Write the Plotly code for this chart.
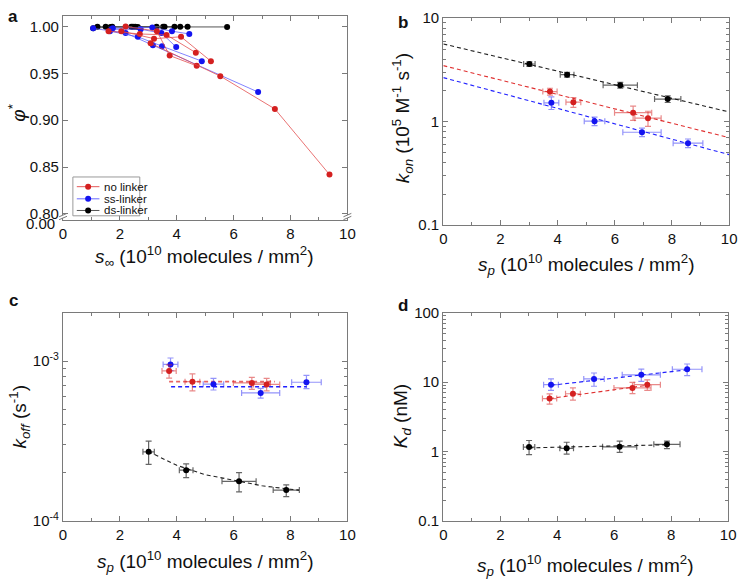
import plotly.graph_objects as go

W, H = 747, 585
def px(x): return x / W
def py(y): return 1 - y / H

# ---------------- Panel a data (s_inf, phi*) ----------------
nolink_s = [[1.6, 2.7, 3.64, 4.67], [2.05, 3.2, 4.15, 5.2], [2.2, 3.3, 3.75, 4.7], [3.08, 5.53, 7.45, 9.37]]
nolink_phi = [[0.995, 0.992, 0.991, 0.972], [0.995, 0.987, 0.989, 0.963], [1.0, 0.995, 0.969, 0.958], [0.982, 0.947, 0.912, 0.842]]
ss_s = [[1.06, 2.2, 3.16, 6.86], [1.65, 2.63, 3.48, 4.88], [1.7, 2.73, 3.46, 3.98], [1.75, 3.14, 3.83, 4.44]]
ss_phi = [[0.998, 0.993, 0.980, 0.930], [0.995, 0.989, 0.979, 0.963], [0.997, 0.997, 0.993, 0.978], [0.998, 0.999, 0.995, 0.992]]
ds_s = [[1.06, 1.67, 2.63, 5.77], [1.21, 2.4, 3.29, 4.38], [1.5, 2.46, 3.52, 4.12], [1.73, 2.54, 3.57, 3.92]]
ds_phi = [[0.998, 0.9995, 0.9995, 0.9995], [0.9998, 0.9998, 0.9998, 0.9998], [0.9997, 0.9998, 0.9998, 0.9998], [0.9996, 0.9997, 0.9998, 0.9998]]

# ---------------- Panels b-d data ----------------
sp_ds = [3.01, 4.33, 6.19, 7.85]
sp_ds_err = [0.2, 0.24, 0.6, 0.46]
sp_no = [3.73, 4.55, 6.64, 7.16]
sp_no_err = [0.25, 0.26, 0.65, 0.46]
sp_ss = [3.78, 5.29, 6.95, 8.56]
sp_ss_err = [0.26, 0.36, 0.67, 0.52]

kon_ds = [3.6, 2.84, 2.25, 1.65]
kon_ds_err = [0.18, 0.15, 0.14, 0.12]
kon_no = [1.95, 1.54, 1.22, 1.08]
kon_no_err = [0.15, 0.17, 0.19, 0.18]
kon_ss = [1.52, 1.01, 0.79, 0.62]
kon_ss_err = [0.21, 0.095, 0.075, 0.06]
kon_fit_x = [0, 10]
kon_fit_ds = [5.62, 1.24]
kon_fit_no = [3.47, 0.70]
kon_fit_ss = [2.66, 0.48]

koff_ds = [2.71e-4, 2.08e-4, 1.77e-4, 1.56e-4]
koff_ds_plus = [0.45e-4, 0.20e-4, 0.24e-4, 0.12e-4]
koff_ds_minus = [0.45e-4, 0.21e-4, 0.25e-4, 0.14e-4]
koff_no = [8.69e-4, 7.44e-4, 7.31e-4, 7.15e-4]
koff_no_plus = [0.8e-4, 0.9e-4, 0.62e-4, 0.65e-4]
koff_no_minus = [0.85e-4, 0.92e-4, 0.64e-4, 0.63e-4]
koff_ss = [9.55e-4, 7.18e-4, 6.33e-4, 7.38e-4]
koff_ss_plus = [0.92e-4, 0.62e-4, 0.43e-4, 0.76e-4]
koff_ss_minus = [0.82e-4, 0.58e-4, 0.45e-4, 0.65e-4]
koff_fit_ds_x = [3.0, 4.0, 5.0, 6.0, 7.0, 8.0, 8.3]
koff_fit_ds = [2.72e-4, 2.23e-4, 1.95e-4, 1.79e-4, 1.66e-4, 1.58e-4, 1.56e-4]
koff_fit_no_x = [3.73, 7.45]
koff_fit_no = [7.44e-4, 7.44e-4]
koff_fit_ss_x = [3.8, 8.57]
koff_fit_ss = [6.92e-4, 6.92e-4]

kd_ds = [1.16, 1.11, 1.17, 1.27]
kd_ds_plus = [0.28, 0.25, 0.24, 0.14]
kd_ds_minus = [0.26, 0.19, 0.2, 0.17]
kd_no = [5.78, 6.79, 8.24, 9.18]
kd_no_plus = [1.0, 1.45, 1.66, 1.6]
kd_no_minus = [0.96, 1.31, 1.44, 1.6]
kd_ss = [9.18, 11.1, 12.7, 15.3]
kd_ss_plus = [1.9, 2.4, 2.7, 2.9]
kd_ss_minus = [1.6, 2.4, 2.5, 2.9]
kd_fit_ds_x = [3.02, 7.87]
kd_fit_ds = [1.13, 1.25]
kd_fit_no_x = [3.74, 7.16]
kd_fit_no = [5.8, 9.0]
kd_fit_ss_x = [3.79, 8.56]
kd_fit_ss = [9.0, 15.0]

RED = "#d42020"
BLUE = "#1414f0"
BLACK = "#000000"
RED_L = "rgba(215,40,40,0.55)"
BLUE_L = "rgba(40,40,245,0.5)"
BLACK_L = "rgba(0,0,0,0.6)"

fig = go.Figure()

# ---- panel a
for sx, sy, mc, lc in [(ds_s, ds_phi, BLACK, "#555555"), (ss_s, ss_phi, BLUE, "rgba(90,90,255,0.75)"), (nolink_s, nolink_phi, RED, "rgba(225,70,70,0.75)")]:
    for xs, ys in zip(sx, sy):
        fig.add_trace(go.Scatter(x=xs, y=ys, mode="lines+markers", xaxis="x", yaxis="y",
                                 line=dict(color=lc, width=1), marker=dict(color=mc, size=6),
                                 showlegend=False, cliponaxis=False))

def err_trace(x, xe, y, yp, ym, mc, ec, xa, ya):
    return go.Scatter(x=x, y=y, mode="markers", xaxis=xa, yaxis=ya,
                      marker=dict(color=mc, size=6),
                      error_x=dict(type="data", array=xe, color=ec, thickness=1.2, width=3),
                      error_y=dict(type="data", array=yp, arrayminus=ym, color=ec, thickness=1.2, width=3),
                      showlegend=False)

def fit_trace(x, y, c, xa, ya, w=1.1):
    return go.Scatter(x=x, y=y, mode="lines", xaxis=xa, yaxis=ya,
                      line=dict(color=c, width=w, dash="4px,3px"), showlegend=False)

# ---- panel b
fig.add_trace(fit_trace(kon_fit_x, kon_fit_ds, "#222222", "x2", "y2"))
fig.add_trace(fit_trace(kon_fit_x, kon_fit_no, "#e03030", "x2", "y2"))
fig.add_trace(fit_trace(kon_fit_x, kon_fit_ss, "#2020ff", "x2", "y2"))
fig.add_trace(err_trace(sp_ds, sp_ds_err, kon_ds, kon_ds_err, kon_ds_err, BLACK, BLACK_L, "x2", "y2"))
fig.add_trace(err_trace(sp_no, sp_no_err, kon_no, kon_no_err, kon_no_err, RED, RED_L, "x2", "y2"))
fig.add_trace(err_trace(sp_ss, sp_ss_err, kon_ss, kon_ss_err, kon_ss_err, BLUE, BLUE_L, "x2", "y2"))

# ---- panel c
fig.add_trace(fit_trace(koff_fit_ds_x, koff_fit_ds, "#222222", "x3", "y3"))
fig.add_trace(fit_trace(koff_fit_no_x, koff_fit_no, "rgba(225,60,60,0.8)", "x3", "y3", 1.8))
fig.add_trace(fit_trace(koff_fit_ss_x, koff_fit_ss, "#2020ff", "x3", "y3", 1.4))
fig.add_trace(err_trace(sp_ds, sp_ds_err, koff_ds, koff_ds_plus, koff_ds_minus, BLACK, BLACK_L, "x3", "y3"))
fig.add_trace(err_trace(sp_ss, sp_ss_err, koff_ss, koff_ss_plus, koff_ss_minus, BLUE, BLUE_L, "x3", "y3"))
fig.add_trace(err_trace(sp_no, sp_no_err, koff_no, koff_no_plus, koff_no_minus, RED, RED_L, "x3", "y3"))

# ---- panel d
fig.add_trace(fit_trace(kd_fit_ds_x, kd_fit_ds, "#222222", "x4", "y4"))
fig.add_trace(fit_trace(kd_fit_no_x, kd_fit_no, "#e03030", "x4", "y4"))
fig.add_trace(fit_trace(kd_fit_ss_x, kd_fit_ss, "#2020ff", "x4", "y4"))
fig.add_trace(err_trace(sp_ds, sp_ds_err, kd_ds, kd_ds_plus, kd_ds_minus, BLACK, BLACK_L, "x4", "y4"))
fig.add_trace(err_trace(sp_no, sp_no_err, kd_no, kd_no_plus, kd_no_minus, RED, RED_L, "x4", "y4"))
fig.add_trace(err_trace(sp_ss, sp_ss_err, kd_ss, kd_ss_plus, kd_ss_minus, BLUE, BLUE_L, "x4", "y4"))

AX = "#7a7a7a"
TF = 15
common = dict(showline=True, mirror="allticks", linecolor=AX, linewidth=1.3, ticks="inside",
              ticklen=5, tickcolor=AX, tickwidth=1, showgrid=False, zeroline=False,
              tickfont=dict(size=TF, color="#111"))
xminor = dict(ticks="inside", ticklen=3, tickcolor=AX, dtick=1, tick0=0, showgrid=False)

def xax(dom, anchor):
    return dict(common, domain=dom, anchor=anchor, range=[0, 10], dtick=2, tick0=0, minor=xminor)

def logminor(lo, hi):
    vals = []
    for e in range(lo, hi):
        for m in range(2, 10):
            vals.append(m * 10 ** e)
    return dict(ticks="inside", ticklen=3, tickcolor=AX, tickmode="array", tickvals=vals, showgrid=False)

xa = [px(60), px(349)]
xb = [px(446.5), px(737)]
ya = [py(217), py(7)]
yb = [py(222.7), py(9.3)]
yc = [py(527.3), py(312.7)]

fig.update_layout(
    width=W, height=H, margin=dict(l=0, r=0, t=0, b=0),
    paper_bgcolor="white", plot_bgcolor="white",
    font=dict(family="Liberation Sans, Arial, sans-serif", color="#111"),
    showlegend=False,
    xaxis=xax(xa, "y"),
    yaxis=dict(common, domain=ya, anchor="x", range=[0.7938, 1.0114],
               tickmode="array", tickvals=[0.80, 0.85, 0.90, 0.95, 1.00],
               ticktext=["0.80", "0.85", "0.90", "0.95", "1.00"]),
    xaxis2=xax(xb, "y2"),
    yaxis2=dict(common, domain=yb, anchor="x2", type="log", range=[-1, 1],
                tickmode="array", tickvals=[0.1, 1, 10], ticktext=["0.1", "1", "10"],
                minor=logminor(-1, 1)),
    xaxis3=xax(xa, "y3"),
    yaxis3=dict(common, domain=yc, anchor="x3", type="log", range=[-4, -2.696],
                tickmode="array", tickvals=[1e-4, 1e-3], ticktext=["10<sup>-4</sup>", "10<sup>-3</sup>"],
                minor=logminor(-4, -2)),
    xaxis4=dict(xax([px(446.5), px(736)], "y4")),
    yaxis4=dict(common, domain=yc, anchor="x4", type="log", range=[-1, 2],
                tickmode="array", tickvals=[0.1, 1, 10, 100], ticktext=["0.1", "1", "10", "100"],
                minor=logminor(-1, 2)),
)

ann = []
def A(text, x, y, size=19, angle=0, xanchor="center", yanchor="middle", bold=False):
    ann.append(dict(text=("<b>%s</b>" % text) if bold else text, x=px(x), y=py(y), xref="paper", yref="paper",
                    showarrow=False, textangle=angle, xanchor=xanchor, yanchor=yanchor,
                    font=dict(size=size, color="#111")))

XT_A = "<i>s</i><sub>∞</sub> (10<sup>10</sup> molecules / mm<sup>2</sup>)"
XT_P = "<i>s<sub>p</sub></i> (10<sup>10</sup> molecules / mm<sup>2</sup>)"
A(XT_A, 204, 255)
A(XT_P, 592, 263)
A(XT_P, 205, 569)
A(XT_P, 591, 573)
A("<i>φ</i><sup>*</sup>", 13, 107, angle=-90)
A("<i>k<sub>on</sub></i> (10<sup>5</sup> M<sup>-1</sup> s<sup>-1</sup>)", 405, 112, angle=-90)
A("<i>k<sub>off</sub></i> (s<sup>-1</sup>)", 16, 420, angle=-90)
A("<i>K<sub>d</sub></i> (nM)", 404, 420, angle=-90)
A("a", 9, 8, size=17, bold=True)
A("b", 406, 14, size=17, bold=True)
A("c", 10, 300, size=17, bold=True)
A("d", 406, 305, size=17, bold=True)
A("0.00", 54, 221, size=TF, xanchor="right")

# legend for panel a (manual)
shapes = []
shapes.append(dict(type="rect", xref="paper", yref="paper", x0=px(70), x1=px(138), y0=py(213), y1=py(173),
                   line=dict(color="#9a9a9a", width=1), fillcolor="white", layer="above"))
leg = [("no linker", RED, "rgba(225,70,70,0.9)", 183), ("ss-linker", BLUE, "rgba(90,90,255,0.9)", 195.5), ("ds-linker", BLACK, "#555555", 207.5)]
for name, mc, lc, yy in leg:
    shapes.append(dict(type="line", xref="paper", yref="paper", x0=px(74), x1=px(97), y0=py(yy), y1=py(yy),
                       line=dict(color=lc, width=1), layer="above"))
    shapes.append(dict(type="circle", xref="paper", yref="paper", xsizemode="pixel", ysizemode="pixel",
                       xanchor=px(85.5), yanchor=py(yy), x0=-3, x1=3, y0=-3, y1=3,
                       fillcolor=mc, line=dict(color=mc, width=0), layer="above"))
    ann.append(dict(text=name, x=px(100), y=py(yy), xref="paper", yref="paper", showarrow=False,
                    xanchor="left", yanchor="middle", font=dict(size=11.5, color="#111")))

# axis break marks for panel a
for xx in (60, 349):
    shapes.append(dict(type="rect", xref="paper", yref="paper", x0=px(xx - 2), x1=px(xx + 2),
                       y0=py(215.2), y1=py(212.2), line=dict(width=0), fillcolor="white", layer="above"))
    for dy in (0, 3):
        shapes.append(dict(type="line", xref="paper", yref="paper", x0=px(xx - 4), x1=px(xx + 4),
                           y0=py(214 + dy), y1=py(210.5 + dy), line=dict(color=AX, width=1), layer="above"))

fig.update_layout(annotations=ann, shapes=shapes)
fig.write_html("out.html", config={"displayModeBar": False},
               post_script="document.body.style.margin='0px';document.body.style.overflow='hidden';")
